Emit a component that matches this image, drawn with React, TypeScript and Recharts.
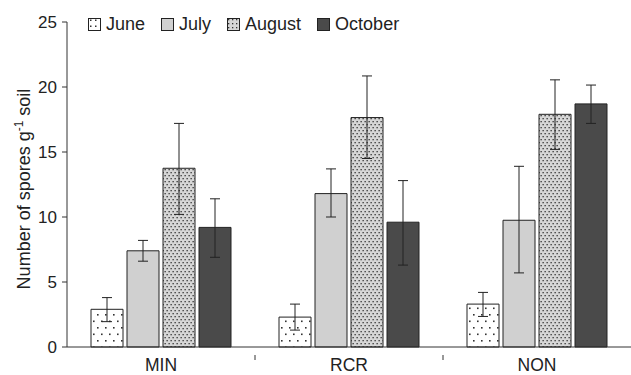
import React from 'react';
import { BarChart, Bar, XAxis, YAxis, ErrorBar } from 'recharts';

const sites = ['MIN', 'RCR', 'NON'];
const months = ['June', 'July', 'August', 'October'];

// mean values per month (one entry per site)
const juneValues = [2.9, 2.3, 3.3];
const julyValues = [7.4, 11.8, 9.75];
const augustValues = [13.75, 17.65, 17.9];
const octoberValues = [9.2, 9.6, 18.7];

// error bar extents [lower, upper]
const juneErr = [[1.95, 3.8], [1.3, 3.3], [2.35, 4.2]];
const julyErr = [[6.6, 8.2], [10.0, 13.7], [5.7, 13.9]];
const augustErr = [[10.2, 17.2], [14.5, 20.85], [15.2, 20.55]];
const octoberErr = [[6.9, 11.4], [6.3, 12.8], [17.2, 20.15]];

const yTicks = [0, 5, 10, 15, 20, 25];

const toDelta = (v: number, e: number[]) => [v - e[0], e[1] - v];

const data = sites.map((site, i) => ({
  site,
  June: juneValues[i],
  July: julyValues[i],
  August: augustValues[i],
  October: octoberValues[i],
  juneE: toDelta(juneValues[i], juneErr[i]),
  julyE: toDelta(julyValues[i], julyErr[i]),
  augustE: toDelta(augustValues[i], augustErr[i]),
  octoberE: toDelta(octoberValues[i], octoberErr[i]),
}));

const fills: Record<string, string> = {
  June: 'url(#juneDots)',
  July: '#d0d0d0',
  August: 'url(#augDots)',
  October: '#4a4a4a',
};

const FONT = 'Liberation Sans, Arial, sans-serif';
const WIDTH = 631;
const HEIGHT = 375;
const LEFT = 67;

const XTick = (props: any) => {
  const { x, y, payload, index } = props;
  const band = (WIDTH - LEFT) / sites.length;
  return (
    <g>
      <text x={x} y={y + 16} textAnchor="middle" fontSize={17.5} fill="#222" fontFamily={FONT}>
        {payload.value}
      </text>
      {index < sites.length - 1 && (
        <line x1={x + band / 2} x2={x + band / 2} y1={y} y2={y + 5} stroke="#333" />
      )}
    </g>
  );
};

const PatternIcon = ({ fill }: { fill: string }) => (
  <svg width={13} height={13} style={{ marginRight: 5 }}>
    <defs>
      <pattern id="lgJune" width={5} height={6} patternUnits="userSpaceOnUse">
        <rect width={5} height={6} fill="#fff" />
        <rect x={2} y={1.5} width={1.5} height={1.5} fill="#333" />
      </pattern>
      <pattern id="lgAug" width={4} height={4} patternUnits="userSpaceOnUse">
        <rect width={4} height={4} fill="#d6d6d6" />
        <rect x={1} y={1} width={1.3} height={1.3} fill="#333" />
      </pattern>
    </defs>
    <rect x={0.5} y={0.5} width={12} height={12} fill={fill} stroke="#222" />
  </svg>
);

const legendFills: Record<string, string> = {
  June: 'url(#lgJune)',
  July: '#d0d0d0',
  August: 'url(#lgAug)',
  October: '#4a4a4a',
};

const LegendBox = () => (
  <div
    style={{
      position: 'absolute',
      left: 88,
      top: 14,
      display: 'flex',
      fontFamily: FONT,
      fontSize: 18,
      color: '#222',
      lineHeight: '20px',
    }}
  >
    {months.map((m) => (
      <div key={m} style={{ display: 'flex', alignItems: 'center', marginRight: 16 }}>
        <PatternIcon fill={legendFills[m]} />
        <span>{m}</span>
      </div>
    ))}
  </div>
);

const YLabel = () => (
  <text
    transform="translate(30,189) rotate(-90)"
    textAnchor="middle"
    fontSize={18}
    fill="#222"
    fontFamily={FONT}
  >
    Number of spores g
    <tspan dy={-7} fontSize={12}>-1</tspan>
    <tspan dy={7}> soil</tspan>
  </text>
);

export default function App() {
  return (
    <div style={{ position: 'absolute', left: 0, top: 0, width: WIDTH, height: HEIGHT, background: '#fff' }}>
      <BarChart
        width={WIDTH}
        height={HEIGHT}
        data={data}
        margin={{ top: 22, right: 0, bottom: 0, left: 0 }}
        barCategoryGap={24}
        barGap={4}
      >
        <defs>
          <pattern id="juneDots" width={8} height={13} patternUnits="userSpaceOnUse">
            <rect width={8} height={13} fill="#fff" />
            <rect x={1} y={2} width={1.6} height={1.6} fill="#333" />
            <rect x={5} y={8.5} width={1.6} height={1.6} fill="#333" />
          </pattern>
          <pattern id="augDots" width={4} height={6} patternUnits="userSpaceOnUse">
            <rect width={4} height={6} fill="#d6d6d6" />
            <rect x={0.5} y={1} width={1.3} height={1.3} fill="#333" />
            <rect x={2.5} y={4} width={1.3} height={1.3} fill="#333" />
          </pattern>
        </defs>
        <XAxis
          dataKey="site"
          height={28}
          tick={<XTick />}
          tickLine={false}
          axisLine={{ stroke: '#333' }}
          interval={0}
        />
        <YAxis
          width={LEFT}
          domain={[0, 25]}
          ticks={yTicks}
          tick={{ fontSize: 17, fill: '#222', fontFamily: FONT }}
          tickSize={5}
          tickMargin={5}
          axisLine={{ stroke: '#333' }}
          tickLine={{ stroke: '#333' }}
          label={<YLabel />}
        />
        <Bar dataKey="June" fill={fills.June} stroke="#222" strokeWidth={1} isAnimationActive={false}>
          <ErrorBar dataKey="juneE" width={5} stroke="#222" strokeWidth={1} />
        </Bar>
        <Bar dataKey="July" fill={fills.July} stroke="#222" strokeWidth={1} isAnimationActive={false}>
          <ErrorBar dataKey="julyE" width={5} stroke="#222" strokeWidth={1} />
        </Bar>
        <Bar dataKey="August" fill={fills.August} stroke="#222" strokeWidth={1} isAnimationActive={false}>
          <ErrorBar dataKey="augustE" width={5} stroke="#222" strokeWidth={1} />
        </Bar>
        <Bar dataKey="October" fill={fills.October} stroke="#222" strokeWidth={1} isAnimationActive={false}>
          <ErrorBar dataKey="octoberE" width={5} stroke="#222" strokeWidth={1} />
        </Bar>
      </BarChart>
      <LegendBox />
    </div>
  );
}
